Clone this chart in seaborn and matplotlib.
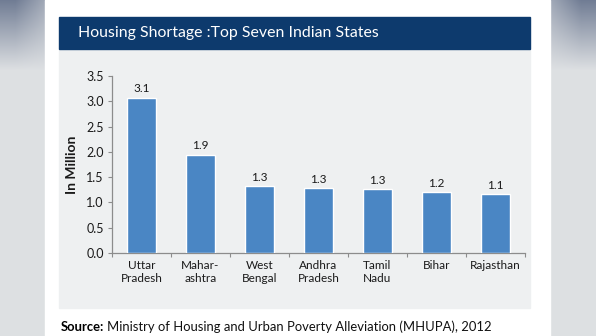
import numpy as np
import pandas as pd
import matplotlib
matplotlib.use("Agg")
import matplotlib.pyplot as plt
import seaborn as sns
from matplotlib.patches import Rectangle
from matplotlib.ticker import MultipleLocator, FixedLocator

states = ["Uttar\nPradesh", "Mahar-\nashtra", "West\nBengal", "Andhra\nPradesh",
          "Tamil\nNadu", "Bihar", "Rajasthan"]
shortage = [3.07, 1.94, 1.32, 1.28, 1.26, 1.20, 1.16]
value_labels = ["3.1", "1.9", "1.3", "1.3", "1.3", "1.2", "1.1"]
title_text = "Housing Shortage :Top Seven Indian States"
ylabel_text = "In Million"
source_bold = "Source:"
source_text = "Ministry of Housing and Urban Poverty Alleviation (MHUPA), 2012"

sns.set_theme(style="white")
plt.rcParams["font.family"] = ["Lato", "DejaVu Sans"]

W, H = 596, 336
fig = plt.figure(figsize=(W / 100, H / 100), dpi=100)

# background: blurred side strips + white slide
bg = fig.add_axes([0, 0, 1, 1])
bg.set_xlim(0, W)
bg.set_ylim(H, 0)
bg.axis("off")
xs = np.arange(W)
ys = np.arange(H)
X, Y = np.meshgrid(xs, ys)
img = np.ones((H, W, 3))
base = np.array([0.87, 0.88, 0.89])
dark = np.array([0.30, 0.36, 0.48])
for side in (0, 1):
    if side == 0:
        mask = X < 45
        dx = np.clip((45 - X) / 45, 0, 1)
    else:
        mask = X > 550
        dx = np.clip((X - 550) / 46, 0, 1)
    t = np.clip(1 - Y / 70, 0, 1) * (0.55 + 0.45 * np.clip(dx * 1.5, 0, 1)) * 0.75
    for c in range(3):
        ch = base[c] * (1 - t) + dark[c] * t
        img[..., c] = np.where(mask, ch, img[..., c])
bg.imshow(img, extent=(0, W, H, 0), aspect="auto", zorder=0)
bg.add_patch(Rectangle((45, 0), 505, H, color="white", zorder=1))
# chart panel
bg.add_patch(Rectangle((59, 50), 471, 258, color="#eef0f1", zorder=2))
# title bar
bg.add_patch(Rectangle((59, 17), 471, 32, color="#0d3a6d", zorder=3))
bg.text(78, 33.5, title_text, color="white", fontsize=11.4, va="center", ha="left", zorder=4)
t_bold = bg.text(61, 327, source_bold, color="black", fontsize=9.4, fontweight="bold",
                 va="center", ha="left", zorder=4)
fig.canvas.draw()
bb = t_bold.get_window_extent()
bold_end = bb.x1 * W / fig.bbox.width
bg.text(bold_end + 3, 327, source_text, color="#111111", fontsize=9.4, va="center",
        ha="left", zorder=4)

# main axes
x0, x1 = 112, 525
y0, y35 = 253, 76
ax = fig.add_axes([x0 / W, (H - y0) / H, (x1 - x0) / W, (y0 - y35) / H])
ax.patch.set_alpha(0)
df = pd.DataFrame({"state": states, "value": shortage})
sns.barplot(data=df, x="state", y="value", color="#4a86c4", saturation=1,
            width=0.48, ax=ax, zorder=3)
ax.set_xlim(-0.5, len(states) - 0.5)
ax.set_ylim(0, 3.5)
ax.yaxis.set_major_locator(MultipleLocator(0.5))
ax.yaxis.set_major_formatter(matplotlib.ticker.FormatStrFormatter("%.1f"))
ax.xaxis.set_minor_locator(FixedLocator(np.arange(-0.5, len(states), 1.0)))
for s in ("top", "right"):
    ax.spines[s].set_visible(False)
for s in ("left", "bottom"):
    ax.spines[s].set_color("#8c8c8c")
    ax.spines[s].set_linewidth(0.9)
ax.tick_params(axis="y", length=3, width=0.8, color="#8c8c8c", labelsize=9,
               labelcolor="#1a1a1a", pad=3, left=True)
ax.tick_params(axis="x", which="major", length=0, labelsize=8.5, labelcolor="#1a1a1a", pad=5)
ax.tick_params(axis="x", which="minor", length=3, width=0.8, color="#8c8c8c", bottom=True)
ax.set_xlabel("")
ax.set_ylabel(ylabel_text, fontsize=10, fontweight="bold", color="#1a1a1a", labelpad=6)
for i, (v, lab) in enumerate(zip(shortage, value_labels)):
    ax.text(i, v + 0.07, lab, ha="center", va="bottom", fontsize=8.5, color="#1a1a1a")

fig.savefig("out.png", dpi=100)
